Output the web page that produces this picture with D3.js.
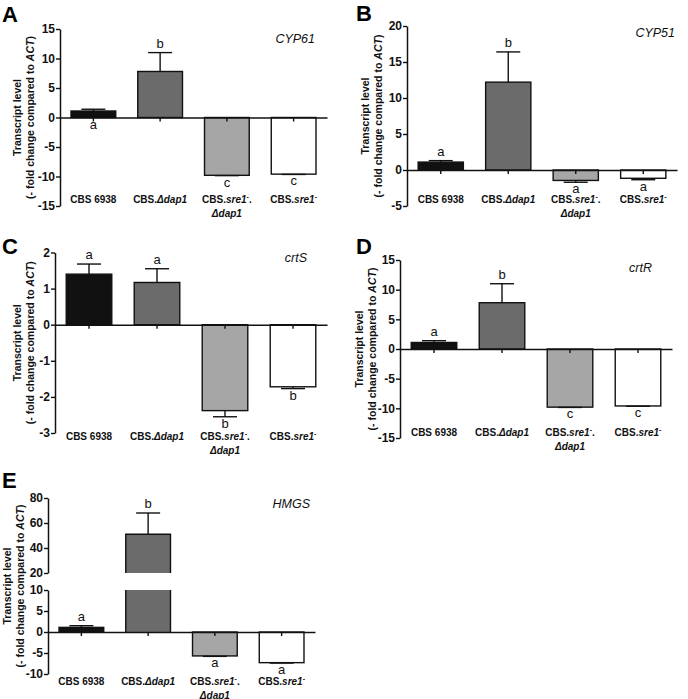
<!DOCTYPE html>
<html>
<head>
<meta charset="utf-8">
<script src="https://cdn.jsdelivr.net/npm/d3@7"></script>
<style>
  html, body { margin: 0; padding: 0; background: #fff; }
  svg { display: block; font-family: "Liberation Sans", Arial, Helvetica, sans-serif; }
</style>
</head>
<body>
<svg id="chart" width="688" height="699"></svg>
<script>
// ---------------- DATA ----------------
const categories = [
  [[{t: "CBS 6938"}]],
  [[{t: "CBS."}, {t: "Δdap1", i: true}]],
  [[{t: "CBS."}, {t: "sre1", i: true}, {t: "-", sup: true}, {t: "."}], [{t: "Δdap1", i: true}]],
  [[{t: "CBS."}, {t: "sre1", i: true}, {t: "-", sup: true}]]
];
const barColors = ["#111111", "#6b6b6b", "#a6a6a6", "#ffffff"];

const cyp61Mean = [1.1, 7.8, -9.8, -9.6];
const cyp61Err = [0.3, 3.2, 0.05, 0.05];
const cyp61Letters = ["a", "b", "c", "c"];
const cyp61Below = [true, false, true, true];
const cyp61Ticks = [-15, -10, -5, 0, 5, 10, 15];

const cyp51Mean = [1.1, 12.2, -1.45, -1.15];
const cyp51Err = [0.2, 4.2, 0.25, 0.2];
const cyp51Letters = ["a", "b", "a", "a"];
const cyp51Below = [false, false, true, true];
const cyp51Ticks = [-5, 0, 5, 10, 15, 20];

const crtSMean = [1.4, 1.17, -2.38, -1.72];
const crtSErr = [0.28, 0.38, 0.17, 0.05];
const crtSLetters = ["a", "a", "b", "b"];
const crtSBelow = [false, false, true, true];
const crtSTicks = [-3, -2, -1, 0, 1, 2];

const crtRMean = [1.1, 7.8, -9.8, -9.6];
const crtRErr = [0.3, 3.2, 0.05, 0.05];
const crtRLetters = ["a", "b", "c", "c"];
const crtRBelow = [false, false, true, true];
const crtRTicks = [-15, -10, -5, 0, 5, 10, 15];

const hmgsMean = [1.1, 51, -5.7, -7.3];
const hmgsErr = [0.4, 17, 0.1, 0.1];
const hmgsLetters = ["a", "b", "a", "a"];
const hmgsBelow = [false, false, true, true];
const hmgsLowerTicks = [-10, -5, 0, 5, 10];
const hmgsUpperTicks = [20, 40, 60, 80];

// ---------------- LAYOUT ----------------
const svg = d3.select("#chart");
const FONT = '"Liberation Sans", Arial, Helvetica, sans-serif';

const panels = [
  {letter: "A", gene: "CYP61", mean: cyp61Mean, err: cyp61Err, letters: cyp61Letters, below: cyp61Below, ticks: cyp61Ticks,
   domain: [-15, 15], x0: 60, x1: 327, yTop: 29, yBot: 206, lx: 2, ly: 22, gx: 315, gy: 43, catY: 203, titleX: 21},
  {letter: "B", gene: "CYP51", mean: cyp51Mean, err: cyp51Err, letters: cyp51Letters, below: cyp51Below, ticks: cyp51Ticks,
   domain: [-5, 20], x0: 407, x1: 677, yTop: 26, yBot: 206, lx: 356, ly: 21, gx: 675, gy: 37, catY: 203, titleX: 369},
  {letter: "C", gene: "crtS", mean: crtSMean, err: crtSErr, letters: crtSLetters, below: crtSBelow, ticks: crtSTicks,
   domain: [-3, 2], x0: 55, x1: 327, yTop: 252.5, yBot: 433, lx: 2, ly: 254, gx: 307, gy: 262, catY: 440, titleX: 21},
  {letter: "D", gene: "crtR", mean: crtRMean, err: crtRErr, letters: crtRLetters, below: crtRBelow, ticks: crtRTicks,
   domain: [-15, 15], x0: 400, x1: 672, yTop: 260, yBot: 438, lx: 356, ly: 254, gx: 652, gy: 272, catY: 436, titleX: 363},
  {letter: "E", gene: "HMGS", mean: hmgsMean, err: hmgsErr, letters: hmgsLetters, below: hmgsBelow, ticks: hmgsLowerTicks,
   upperTicks: hmgsUpperTicks, broken: true,
   domain: [-10, 10], upperDomain: [20, 80], x0: 48, x1: 315, yTop: 590, yBot: 674, upTop: 498, upBot: 573,
   lx: 2, ly: 488, gx: 310, gy: 508, catY: 685, titleX: 10.5}
];

function addRich(textSel, segs) {
  let supped = false;
  segs.forEach(s => {
    const ts = textSel.append("tspan").text(s.t);
    if (s.i) ts.attr("font-style", "italic");
    if (s.sup) ts.attr("font-size", "7px").attr("dy", "-4");
    else if (supped) ts.attr("dy", "4");
    supped = !!s.sup;
  });
}

panels.forEach(p => {
  const g = svg.append("g");
  const x = d3.scaleBand().domain(d3.range(categories.length)).range([p.x0, p.x1]).paddingInner(0.33).paddingOuter(0.165);
  const bw = x.bandwidth();
  const capW = 24;

  const yLow = d3.scaleLinear().domain(p.domain).range([p.yBot, p.yTop]);
  const yUp = p.broken ? d3.scaleLinear().domain(p.upperDomain).range([p.upBot, p.upTop]) : null;
  const y = v => (p.broken && v >= p.upperDomain[0]) ? yUp(v) : yLow(Math.max(p.domain[0], Math.min(p.domain[1], v)));

  // bars
  p.mean.forEach((v, i) => {
    const left = x(i), right = x(i) + bw;
    if (p.broken && v > p.upperDomain[0]) {
      g.append("rect").attr("x", left).attr("width", bw)
        .attr("y", yLow(p.domain[1])).attr("height", yLow(0) - yLow(p.domain[1]))
        .attr("fill", barColors[i]);
      g.append("path").attr("d", `M${left},${yLow(0)}V${yLow(p.domain[1])}M${right},${yLow(p.domain[1])}V${yLow(0)}`)
        .attr("stroke", "#111").attr("stroke-width", 1.4).attr("fill", "none");
      g.append("rect").attr("x", left).attr("width", bw)
        .attr("y", yUp(v)).attr("height", yUp(p.upperDomain[0]) - yUp(v))
        .attr("fill", barColors[i]);
      g.append("path").attr("d", `M${left},${yUp(p.upperDomain[0])}V${yUp(v)}H${right}V${yUp(p.upperDomain[0])}`)
        .attr("stroke", "#111").attr("stroke-width", 1.4).attr("fill", "none");
    } else {
      const yA = y(Math.max(v, 0)), yB = y(Math.min(v, 0));
      g.append("rect").attr("x", left).attr("width", bw).attr("y", yA).attr("height", yB - yA)
        .attr("fill", barColors[i]).attr("stroke", "#111").attr("stroke-width", 1.4);
    }
    // error bar (one-sided)
    const e = p.err[i];
    const end = v >= 0 ? v + e : v - e;
    const cx = x(i) + bw / 2;
    g.append("line").attr("x1", cx).attr("x2", cx).attr("y1", y(v)).attr("y2", y(end))
      .attr("stroke", "#111").attr("stroke-width", 1.4);
    g.append("line").attr("x1", cx - capW / 2).attr("x2", cx + capW / 2).attr("y1", y(end)).attr("y2", y(end))
      .attr("stroke", "#111").attr("stroke-width", 1.4);
    // significance letter
    const topV = Math.max(v, v + (v >= 0 ? e : 0));
    const botV = Math.min(0, v - (v < 0 ? e : 0));
    const ly = p.below[i] ? y(botV) + 11 : y(topV) - 5;
    g.append("text").attr("x", cx).attr("y", ly).attr("text-anchor", "middle")
      .attr("font-family", FONT).attr("font-size", "13px").attr("fill", "#111").text(p.letters[i]);
  });

  // axes
  const styleAxis = a => {
    a.selectAll("path.domain").attr("stroke", "#111").attr("stroke-width", 1.5);
    a.selectAll(".tick line").attr("stroke", "#111").attr("stroke-width", 1.4);
    a.selectAll(".tick text").attr("font-family", FONT).attr("font-size", "12px").attr("font-weight", "bold").attr("fill", "#111");
  };
  const fmt = d => String(d);
  const ya = g.append("g").attr("transform", `translate(${p.x0},0)`)
    .call(d3.axisLeft(yLow).tickValues(p.ticks).tickFormat(fmt).tickSize(4).tickSizeOuter(0).tickPadding(1));
  styleAxis(ya);
  if (p.broken) {
    const yb = g.append("g").attr("transform", `translate(${p.x0},0)`)
      .call(d3.axisLeft(yUp).tickValues(p.upperTicks).tickFormat(fmt).tickSize(4).tickSizeOuter(0).tickPadding(1));
    styleAxis(yb);
  }
  const xa = g.append("g").attr("transform", `translate(0,${yLow(0)})`)
    .call(d3.axisBottom(x).tickSize(4).tickSizeOuter(0).tickFormat(""));
  styleAxis(xa);

  // category labels
  categories.forEach((lines, i) => {
    const cx = x(i) + bw / 2;
    lines.forEach((segs, li) => {
      const t = g.append("text").attr("x", cx).attr("y", p.catY + li * 13.5).attr("text-anchor", "middle")
        .attr("font-family", FONT).attr("font-size", "10px").attr("font-weight", "bold").attr("fill", "#111");
      addRich(t, segs);
    });
  });

  // y title
  const midY = p.broken ? (p.upTop + p.yBot) / 2 : (p.yTop + p.yBot) / 2;
  const tt = g.append("text").attr("transform", `translate(${p.titleX},${midY}) rotate(-90)`)
    .attr("text-anchor", "middle").attr("font-family", FONT).attr("font-size", "10.5px").attr("font-weight", "bold").attr("fill", "#111");
  tt.append("tspan").attr("x", 0).attr("dy", 0).text("Transcript level");
  tt.append("tspan").attr("x", 0).attr("dy", 13).text("(- fold change compared to ");
  tt.append("tspan").attr("font-style", "italic").text("ACT");
  tt.append("tspan").text(")");

  // gene name
  g.append("text").attr("x", p.gx).attr("y", p.gy).attr("text-anchor", "end")
    .attr("font-family", FONT).attr("font-size", "12.5px").attr("font-style", "italic").attr("fill", "#111").text(p.gene);

  // panel letter
  g.append("text").attr("x", p.lx).attr("y", p.ly)
    .attr("font-family", FONT).attr("font-size", "22px").attr("font-weight", "bold").attr("fill", "#000").text(p.letter);
});
</script>
</body>
</html>
